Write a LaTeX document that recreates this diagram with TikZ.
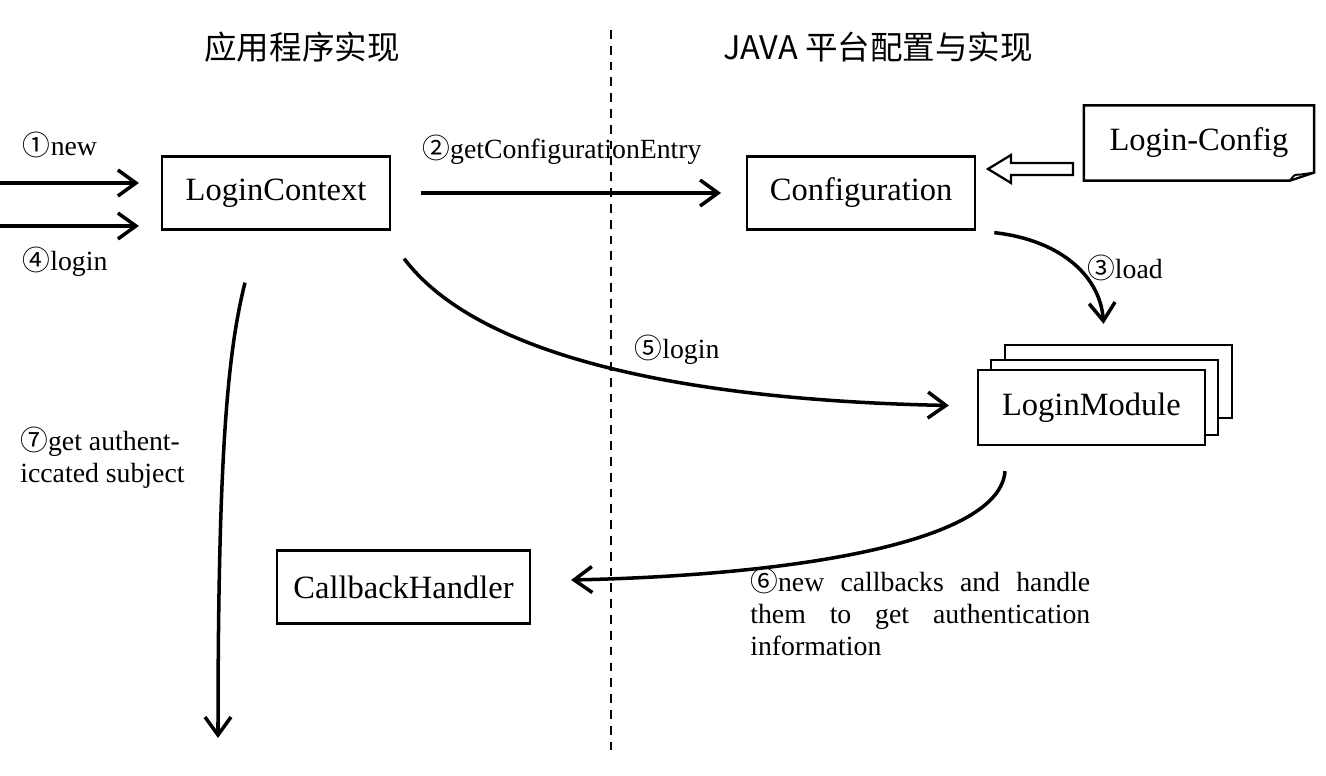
\documentclass[tikz,border=0pt]{standalone}
\usepackage{fontspec}
\setmainfont{Liberation Serif}
\newfontfamily\cjk{Noto Sans CJK SC}
\usetikzlibrary{arrows.meta,positioning,calc}
\newcommand\stepno[1]{{\cjk #1}}

\begin{document}
\begin{tikzpicture}[
    x=0.02cm, y=-0.02cm,
    box/.style={rectangle, draw=black, line width=1.3pt, fill=white, align=center, minimum height=1.46cm, minimum width=4.56cm, font=\fontsize{18.5}{22}\selectfont},
    docbox/.style={box, draw=none, fill=none},
    lbl/.style={inner sep=0pt, align=left, font=\fontsize{15.8}{18}\selectfont},
    title/.style={inner sep=0pt, font=\cjk\fontsize{18.5}{22}\selectfont},
    arrow/.style={-{Straight Barb[length=3.6mm,width=5.2mm]}, line width=2pt}
]
    \useasboundingbox (0,0) rectangle (1326,776);

    \node [title] (tapp) at (302,47) {应用程序实现};
    \node [title] (tjava) at (878,47) {JAVA 平台配置与实现};
    \draw [line width=1.4pt, dash pattern=on 5pt off 4pt] (611,30) -- (611,750);

    \node [box] (lc) at (276,193) {LoginContext};
    \node [box, right=7.1cm of lc] (conf) {Configuration};
    \node [docbox] (cfgfile) at (1199,143) {Login-Config};
    \node [box, minimum width=4.54cm, minimum height=1.46cm] (lmback) at (1118.5,381.5) {};
    \node [box, minimum width=4.54cm, minimum height=1.5cm] (lmmid) at (1104.5,397.5) {};
    \node [box, minimum width=4.54cm, minimum height=1.5cm] (lm) at (1091.5,407.5) {LoginModule};
    \node [box, minimum width=5.06cm] (cbh) at (403.5,587) {CallbackHandler};

    \draw [line width=1.3pt] (cfgfile.north west) -- (cfgfile.north east) -- ($(cfgfile.south east)+(0,-8)$) -- ($(cfgfile.south east)+(-24,0)$) -- (cfgfile.south west) -- cycle;
    \draw [line width=1.1pt] ($(cfgfile.south east)+(-24,0)$) .. controls ($(cfgfile.south east)+(-20,-6)$) .. ($(cfgfile.south east)+(-14,-6)$) -- ($(cfgfile.south east)+(0,-8)$);
    \draw [line width=1.3pt, fill=white] (988,169) -- (1011,155) -- (1011,163) -- (1073,163) -- (1073,175) -- (1011,175) -- (1011,183) -- cycle;

    \coordinate (newsrc) at (0,183);
    \coordinate (loginsrc) at (0,226);
    \coordinate (subjout) at (218,738);

    \draw [arrow, shorten >=0.44cm] (newsrc) -- (newsrc -| lc.west);
    \draw [arrow, shorten >=0.44cm] (loginsrc) -- (loginsrc -| lc.west);
    \draw [arrow, shorten <=0.6cm, shorten >=0.5cm] (lc) -- (conf);
    \draw [arrow] ($(conf.south east)+(18,2)$) .. controls +(70,8) and +(-3,-45) .. ($(lmback.north)+(-15,-20)$);
    \draw [arrow] ($(lc.south east)+(13,28)$) .. controls +(77,102) and +(-250,-5) .. ($(lm.west)+(-28,-2)$);
    \draw [arrow] ($(lm.south)+(-86.5,25)$) .. controls +(-5,70) and +(230,-5) .. ($(cbh.east)+(40,-7)$);
    \draw [arrow] ($(lc.south)+(-31,52)$) .. controls +(-17,68) and +(0,-288) .. (subjout);

    \node [lbl] (lnew) at (60,145) {\stepno{①}new};
    \node [lbl] (llogin) at (65,262) {\stepno{④}login};
    \node [lbl] (lentry) at (562,150) {\stepno{②}getConfigurationEntry};
    \node [lbl] (lload) at (1125,268) {\stepno{③}load};
    \node [lbl] (lmlogin) at (677,350) {\stepno{⑤}login};
    \node [lbl, anchor=north west, text width=6.8cm, align=justify] (lcb) at (750,568) {\stepno{⑥}new callbacks and handle them to get authentication \mbox{information}};
    \node [lbl, anchor=north west] (lsubj) at (20,427) {\stepno{⑦}get authent-\\iccated subject};
\end{tikzpicture}
\end{document}
